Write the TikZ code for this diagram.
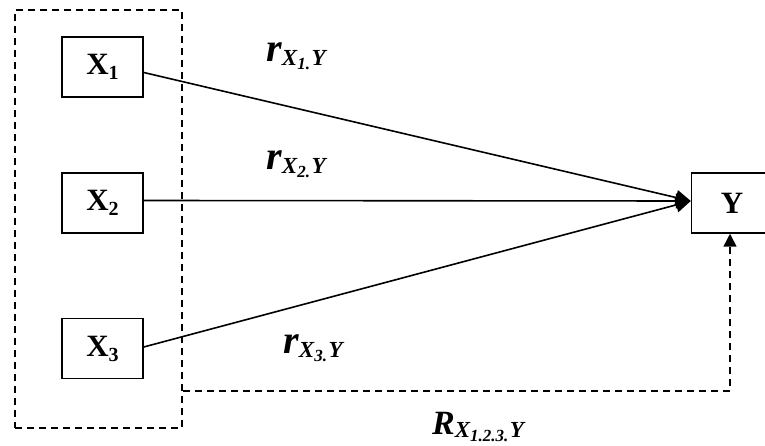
\documentclass[tikz,border=0pt]{standalone}
\usepackage{fontspec}
\setmainfont{Liberation Serif}
\usetikzlibrary{arrows.meta}
\newcommand{\fs}[1]{\fontsize{#1}{#1}\selectfont}
\newcommand{\xvar}[1]{\fs{31}\bfseries X\raisebox{-5pt}{\fs{20}#1}}
\newcommand{\corr}[3]{{\bfseries\itshape\fs{#1}#2\raisebox{-3.5pt}{\fs{23}X\raisebox{-4pt}{\fs{17}#3}\hspace{1.5pt}Y}}}
\begin{document}
\begin{tikzpicture}[x=1pt,y=-1pt,
  varbox/.style={draw, line width=1.5pt, minimum width=81pt, minimum height=60pt, inner sep=0pt},
  grpbox/.style={draw, dash pattern=on 7pt off 5pt, line width=1.5pt, minimum width=167pt, minimum height=418pt, inner sep=0pt},
  lbl/.style={fill=white, inner sep=2pt},
  conn/.style={line width=1.6pt, -{Triangle[length=15pt,width=15pt]}},
  dconn/.style={line width=1.6pt, dash pattern=on 7pt off 5pt, -{Triangle[length=13pt,width=13pt]}}
]
\useasboundingbox (0,0) rectangle (765,446);
\node[grpbox] (grp) at (98.5,219) {};
\node[varbox] (X1) at (102.5,67) {\xvar{1}};
\node[varbox] (X2) at (102.5,203) {\xvar{2}};
\node[varbox] (X3) at (102.5,348.5) {\xvar{3}};
\node[varbox, font=\fs{31}\bfseries] (Y) at (732,203) {Y};
\node[lbl] (r1) at (296,56) {\corr{40}{r}{1.}};
\node[lbl] (r2) at (296,164) {\corr{40}{r}{2.}};
\node[lbl] (r3) at (313,348) {\corr{40}{r}{3.}};
\node[inner sep=0pt] (R) at (478,427) {\corr{34}{R}{1.2.3.}};
\coordinate (c) at (730,391);
\draw[conn] ([yshift=-5.5pt]X1.east) -- ([yshift=2pt]Y.west);
\draw[conn] ([yshift=2.5pt]X2.east) -- ([yshift=2pt]Y.west);
\draw[conn] ([yshift=1.5pt]X3.east) -- ([yshift=2pt]Y.west);
\draw[dconn] (grp.east |- c) -- (c) -- (Y.south -| c);
\end{tikzpicture}
\end{document}
